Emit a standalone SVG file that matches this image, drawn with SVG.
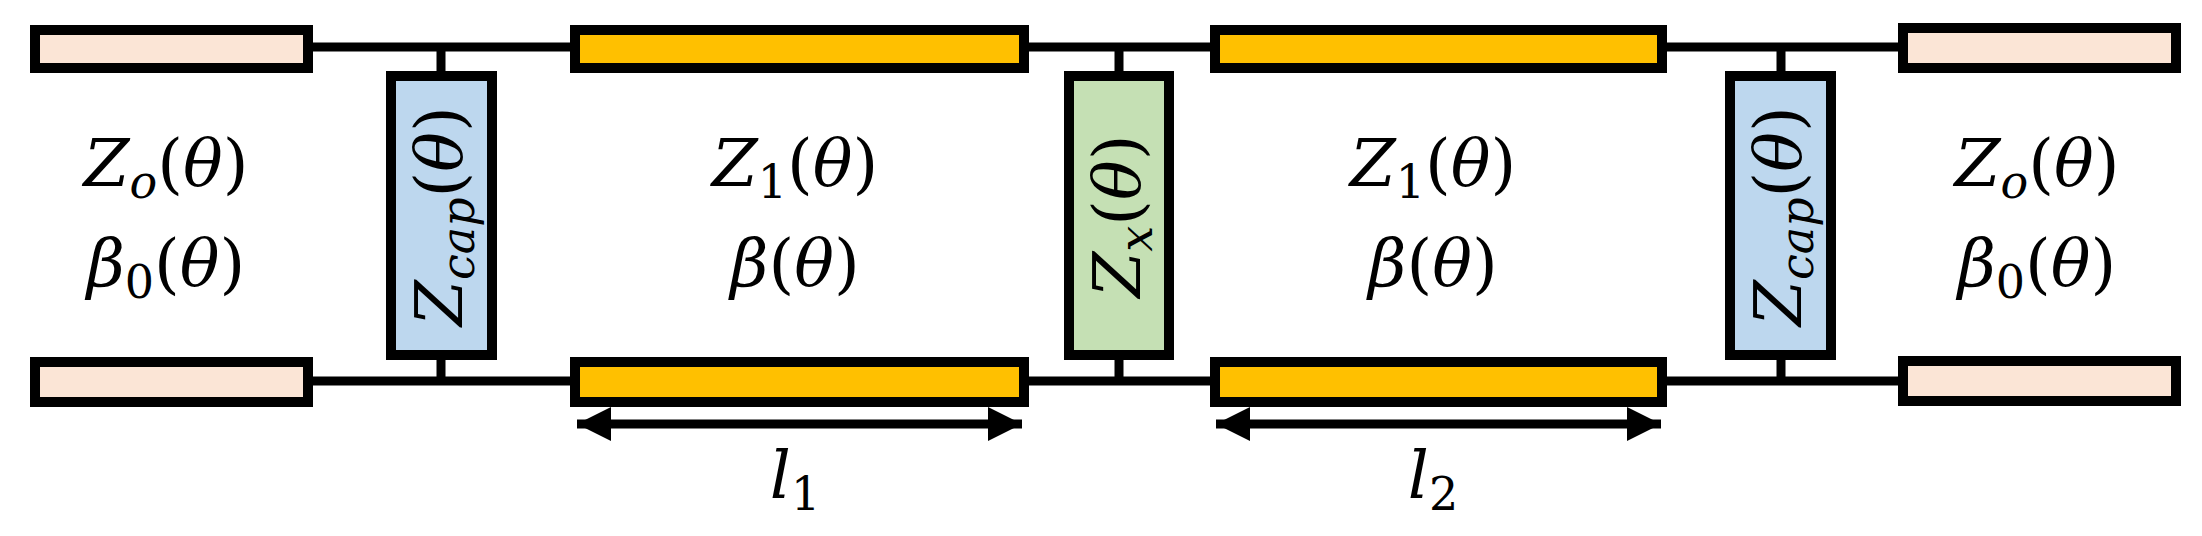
<svg xmlns="http://www.w3.org/2000/svg" width="2202" height="536" viewBox="0 0 2202 536">
<style>
.b{stroke:#000;stroke-width:10}
.pk{fill:#FBE5D6}.yl{fill:#FFC000}.bl{fill:#BDD7EE}.gr{fill:#C5E0B4}
.w{stroke:#000;stroke-width:9;fill:none}
text{font-family:"DejaVu Serif","Liberation Serif",serif;font-size:66px;fill:#000;text-anchor:middle;font-weight:normal}
.i{font-style:italic}
.s{font-size:46px}
</style>
<defs>
<marker id="ah" viewBox="0 0 34 34" refX="34" refY="17" markerWidth="34" markerHeight="34" markerUnits="userSpaceOnUse" orient="auto-start-reverse"><path d="M0,0L34,17L0,34Z" fill="#000"/></marker>
</defs>
<g id="connectors">
<path class="w" d="M308,47H575M1024,47H1215M1662,47H1903M308,381H575M1024,381H1215M1662,381H1903"/>
<path class="w" d="M441,47V76M441,355V381M1119,47V76M1119,355V381M1781,47V76M1781,355V381"/>
<line class="w" x1="577" y1="424" x2="1022" y2="424" marker-start="url(#ah)" marker-end="url(#ah)"/>
<line class="w" x1="1216" y1="424" x2="1661" y2="424" marker-start="url(#ah)" marker-end="url(#ah)"/>
</g>
<g id="line-left-top"><rect class="b pk" x="35" y="30" width="273" height="38"/></g>
<g id="line-left-bottom"><rect class="b pk" x="35" y="362" width="273" height="40"/></g>
<g id="line1-top"><rect class="b yl" x="575" y="30" width="449" height="38"/></g>
<g id="line1-bottom"><rect class="b yl" x="575" y="362" width="449" height="40"/></g>
<g id="line2-top"><rect class="b yl" x="1215" y="30" width="447" height="38"/></g>
<g id="line2-bottom"><rect class="b yl" x="1215" y="362" width="447" height="40"/></g>
<g id="line-right-top"><rect class="b pk" x="1903" y="28" width="273" height="40"/></g>
<g id="line-right-bottom"><rect class="b pk" x="1903" y="361" width="273" height="40"/></g>
<g id="zcap-left"><rect class="b bl" x="391" y="76" width="101" height="279"/>
<text transform="translate(462,216) rotate(-90)" class="i">Z<tspan class="s" dy="12">cap</tspan><tspan dy="-12" font-style="normal">(</tspan>θ<tspan font-style="normal">)</tspan></text></g>
<g id="zx"><rect class="b gr" x="1069" y="76" width="100" height="279"/>
<text transform="translate(1140,216) rotate(-90)" class="i">Z<tspan class="s" dy="12">x</tspan><tspan dy="-12" font-style="normal">(</tspan>θ<tspan font-style="normal">)</tspan></text></g>
<g id="zcap-right"><rect class="b bl" x="1730" y="76" width="101" height="279"/>
<text transform="translate(1801,216) rotate(-90)" class="i">Z<tspan class="s" dy="12">cap</tspan><tspan dy="-12" font-style="normal">(</tspan>θ<tspan font-style="normal">)</tspan></text></g>
<g id="label-left">
<text x="166" y="186" class="i">Z<tspan class="s" dy="12">o</tspan><tspan dy="-12" font-style="normal">(</tspan>θ<tspan font-style="normal">)</tspan></text>
<text x="166" y="286" class="i">β<tspan class="s" dy="12" font-style="normal">0</tspan><tspan dy="-12" font-style="normal">(</tspan>θ<tspan font-style="normal">)</tspan></text></g>
<g id="label-1">
<text x="795" y="186" class="i">Z<tspan class="s" dy="12" font-style="normal">1</tspan><tspan dy="-12" font-style="normal">(</tspan>θ<tspan font-style="normal">)</tspan></text>
<text x="795" y="286" class="i">β<tspan font-style="normal">(</tspan>θ<tspan font-style="normal">)</tspan></text>
<text x="795" y="498" class="i">l<tspan class="s" dy="12" font-style="normal">1</tspan></text></g>
<g id="label-2">
<text x="1433" y="186" class="i">Z<tspan class="s" dy="12" font-style="normal">1</tspan><tspan dy="-12" font-style="normal">(</tspan>θ<tspan font-style="normal">)</tspan></text>
<text x="1433" y="286" class="i">β<tspan font-style="normal">(</tspan>θ<tspan font-style="normal">)</tspan></text>
<text x="1433" y="498" class="i">l<tspan class="s" dy="12" font-style="normal">2</tspan></text></g>
<g id="label-right">
<text x="2037" y="186" class="i">Z<tspan class="s" dy="12">o</tspan><tspan dy="-12" font-style="normal">(</tspan>θ<tspan font-style="normal">)</tspan></text>
<text x="2037" y="286" class="i">β<tspan class="s" dy="12" font-style="normal">0</tspan><tspan dy="-12" font-style="normal">(</tspan>θ<tspan font-style="normal">)</tspan></text></g>
</svg>
